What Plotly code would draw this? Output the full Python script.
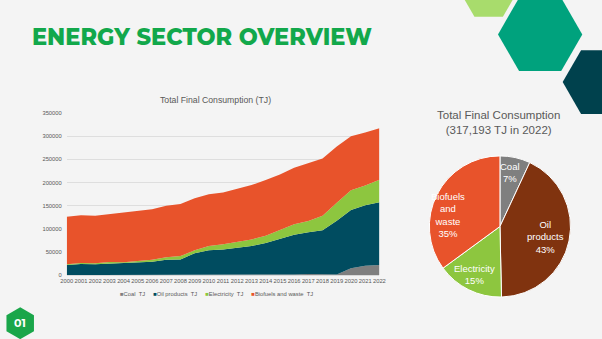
import plotly.graph_objects as go

W, H = 602, 339

# ---------------- data ----------------
years = list(range(2000, 2023))
coal = [0, 0, 0, 0, 0, 0, 0, 0, 0, 0, 0, 0, 0, 0, 300, 800, 1500, 2500, 2500, 1500, 15000, 20000, 22000]
oil = [21900, 24000, 23300, 24700, 24700, 26900, 29000, 33200, 33900, 47300, 53700, 55100, 59400, 62900,
       69000, 77000, 85500, 90100, 94400, 115800, 125700, 130600, 135500]
electricity = [1400, 2100, 2100, 3500, 2800, 3400, 4200, 5600, 7100, 6400, 9200, 11300, 12700, 14100,
               15500, 19800, 23000, 24100, 31000, 39000, 42300, 43000, 48500]
biofuels = [102500, 103300, 102600, 103300, 106800, 107600, 108900, 111100, 112400, 112400, 111700, 111800,
            114600, 117500, 120300, 119400, 122000, 125100, 123800, 121500, 116700, 114600, 111193]

series_names = ["Coal  TJ", "Oil products  TJ", "Electricity  TJ", "Biofuels and waste  TJ"]
series_values = [coal, oil, electricity, biofuels]
area_colors = ["#7f7f7f", "#004c60", "#8dc63f", "#e8532b"]

pie_labels = ["Coal", "Oil products", "Electricity", "Biofuels and waste"]
pie_display = ["Coal", "Oil<br>products", "Electricity", "Biofuels<br>and<br>waste"]
pie_colors = ["#7f7f7f", "#80330f", "#8dc63f", "#e8532b"]
pie_values = [s[-1] for s in series_values]
pie_total = sum(pie_values)

y_ticks = list(range(0, 350001, 50000))


def px(x):
    return x / W


def py(y):
    return 1 - y / H


fig = go.Figure()

for name, vals, col in zip(series_names, series_values, area_colors):
    fig.add_trace(go.Scatter(
        x=years, y=vals, name=name, mode="lines", stackgroup="one",
        line=dict(width=0, color=col), fillcolor=col, showlegend=False,
        xaxis="x", yaxis="y"))

fig.add_trace(go.Pie(
    labels=pie_labels, values=pie_values, sort=False, direction="clockwise", rotation=0,
    marker=dict(colors=pie_colors, line=dict(color="white", width=1)),
    textinfo="none", hoverinfo="label+percent", showlegend=False,
    domain=dict(x=[px(432), px(576)], y=[py(300), py(155)])))

ann = []
# main title
ann.append(dict(text="ENERGY SECTOR OVERVIEW", x=px(24), y=py(34.5), xref="paper", yref="paper",
                xanchor="left", yanchor="middle", showarrow=False,
                font=dict(family="Montserrat, Open Sans, sans-serif", size=22.5, color="#12a84b", weight=800)))
# area chart title
ann.append(dict(text="Total Final Consumption (TJ)", x=px(214), y=py(99), xref="paper", yref="paper",
                xanchor="center", yanchor="middle", showarrow=False,
                font=dict(family="Liberation Sans, Arial", size=8.7, color="#595959")))
# pie title
ann.append(dict(text="Total Final Consumption<br>(%s TJ in %d)" % (f"{pie_total:,}", years[-1]),
                x=px(503), y=py(121.5), xref="paper", yref="paper",
                xanchor="center", yanchor="middle", showarrow=False,
                font=dict(family="Liberation Sans, Arial", size=11.5, color="#595959")))
# legend (as text)
leg_items = []
for name, col in zip(series_names, area_colors):
    leg_items.append('<span style="color:%s">■</span>%s' % (col, name.replace("  ", "&nbsp;&nbsp;")))
ann.append(dict(text="&nbsp;&nbsp;&nbsp;&nbsp;&nbsp;".join(leg_items), x=px(215), y=py(296),
                xref="paper", yref="paper", xanchor="center", yanchor="middle", showarrow=False,
                font=dict(family="Liberation Sans, Arial", size=5.8, color="#595959")))
# pie labels
label_pos = [(514, 172.5), (550, 238), (478, 276), (451, 215.5)]
for disp, v, (lx, ly) in zip(pie_display, pie_values, label_pos):
    ann.append(dict(text="%s<br>%d%%" % (disp, round(v / pie_total * 100)), x=px(lx), y=py(ly),
                    xref="paper", yref="paper", xanchor="center", yanchor="middle", showarrow=False,
                    font=dict(family="Liberation Sans, Arial", size=9.5, color="white")))
# badge text
ann.append(dict(text="01", x=px(14.5), y=py(326), xref="paper", yref="paper",
                xanchor="center", yanchor="middle", showarrow=False,
                font=dict(family="Montserrat, Open Sans, sans-serif", size=11, color="white", weight=700)))


def hex_path(cx, cy, r, pointy=False):
    import math
    pts = []
    for k in range(6):
        a = math.radians(60 * k + (90 if pointy else 0))
        pts.append((px(cx + r * math.cos(a)), py(cy + r * math.sin(a))))
    return "M " + " L ".join("%f,%f" % p for p in pts) + " Z"


shapes = [
    dict(type="path", path=hex_path(492.5, -11, 29), xref="paper", yref="paper",
         fillcolor="#a8dc6c", line=dict(width=0)),
    dict(type="path", path=hex_path(545, 32, 43), xref="paper", yref="paper",
         fillcolor="#00a27d", line=dict(width=0)),
    dict(type="path", path=hex_path(605.5, 80.5, 37.5), xref="paper", yref="paper",
         fillcolor="#00414d", line=dict(width=0)),
    dict(type="path", path=hex_path(14.5, 326, 16.2, pointy=True), xref="paper", yref="paper",
         fillcolor="#1aa64a", line=dict(width=0)),
]

fig.update_layout(
    width=W, height=H, autosize=False,
    margin=dict(l=0, r=0, t=0, b=0),
    paper_bgcolor="#f4f4f4", plot_bgcolor="#f4f4f4",
    annotations=ann, shapes=shapes,
    xaxis=dict(domain=[px(62), px(381)], range=[2000, 2022], tickmode="array", tickvals=years,
               ticktext=[str(y) for y in years], tickangle=0, showgrid=False, zeroline=False,
               showline=True, linecolor="#d9d9d9", linewidth=1, ticks="",
               tickfont=dict(family="Liberation Sans, Arial", size=5.8, color="#595959")),
    yaxis=dict(domain=[py(277), py(112)], range=[0, 350000], tickmode="array", tickvals=y_ticks,
               tickformat="d", showgrid=True, gridcolor="#dedede", gridwidth=1, zeroline=False,
               showline=False, ticks="", ticklabelstandoff=4,
               tickfont=dict(family="Liberation Sans, Arial", size=5.8, color="#595959")),
)

fig.write_html("out.html")
